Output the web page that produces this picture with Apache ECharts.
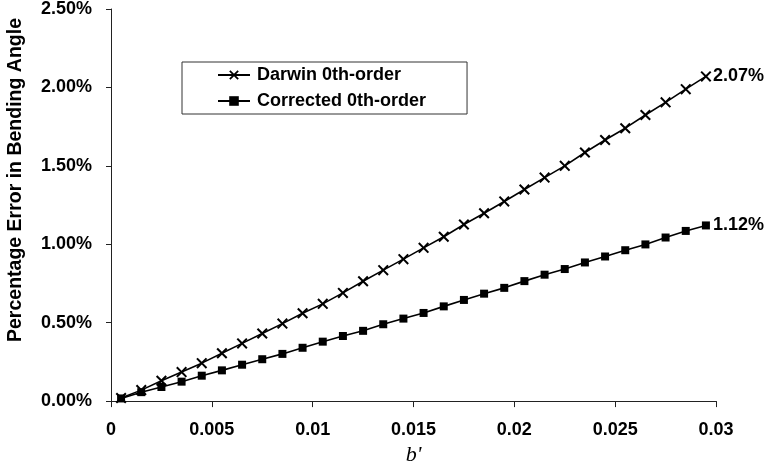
<!DOCTYPE html>
<html>
<head>
<meta charset="utf-8">
<script src="https://cdn.jsdelivr.net/npm/echarts@6/dist/echarts.min.js"></script>
<style>
html,body{margin:0;padding:0;background:#fff;}
#c{width:773px;height:471px;}
</style>
</head>
<body>
<div id="c"></div>
<script>
const bPrime = [0.0005,0.0015,0.0025,0.0035,0.0045,0.0055,0.0065,0.0075,0.0085,0.0095,
  0.0105,0.0115,0.0125,0.0135,0.0145,0.0155,0.0165,0.0175,0.0185,0.0195,
  0.0205,0.0215,0.0225,0.0235,0.0245,0.0255,0.0265,0.0275,0.0285,0.0295];
const darwinPct = [0.02,0.07,0.13,0.185,0.242,0.305,0.368,0.431,0.494,0.56,
  0.62,0.69,0.764,0.835,0.905,0.977,1.048,1.126,1.198,1.273,
  1.349,1.425,1.50,1.585,1.665,1.74,1.824,1.905,1.989,2.07];
const correctedPct = [0.017,0.057,0.09,0.124,0.162,0.196,0.232,0.267,0.301,0.34,
  0.379,0.415,0.448,0.49,0.526,0.562,0.604,0.645,0.685,0.722,
  0.765,0.806,0.842,0.884,0.922,0.962,0.999,1.043,1.085,1.12];
const seriesNames = ['Darwin 0th-order','Corrected 0th-order'];
const xTitle = "b'";
const yTitle = 'Percentage Error in Bending Angle';

const FONT = '"Liberation Sans", Arial, sans-serif';
const xPath = 'path://M0,1.3 L1.3,0 L5,3.7 L8.7,0 L10,1.3 L6.3,5 L10,8.7 L8.7,10 L5,6.3 L1.3,10 L0,8.7 L3.7,5 Z';

const chart = echarts.init(document.getElementById('c'), null, {renderer:'canvas'});
const pair = (xs, ys) => xs.map((x,i)=>[x, ys[i]]);
const endLbl = {
  show:true, distance:7, color:'#000', fontFamily:FONT, fontWeight:'bold', fontSize:18,
  formatter: p => p.value[1].toFixed(2) + '%'
};
chart.setOption({
  animation:false,
  backgroundColor:'#fff',
  textStyle:{fontFamily:FONT},
  grid:{left:111, right:57, top:8, bottom:66, containLabel:false},
  legend:{
    orient:'vertical', left:182, top:62,
    backgroundColor:'#fff', borderColor:'#333', borderWidth:1,
    padding:[4,41,4,35], itemGap:8, itemWidth:32, itemHeight:12,
    textStyle:{fontFamily:FONT, fontWeight:'bold', fontSize:18, color:'#000', padding:[0,0,0,2]},
    data:seriesNames
  },
  xAxis:{
    type:'value', min:0, max:0.03, interval:0.005,
    name:xTitle, nameLocation:'middle', nameGap:36,
    nameTextStyle:{fontFamily:'"Liberation Serif","Times New Roman",serif', fontStyle:'italic', fontSize:22, color:'#000'},
    axisLine:{show:true, onZero:false, lineStyle:{color:'#222', width:1}},
    axisTick:{show:true, inside:false, length:6, lineStyle:{color:'#222'}},
    axisLabel:{margin:20, color:'#000', fontFamily:FONT, fontWeight:'bold', fontSize:18,
      formatter: v => String(parseFloat(v.toFixed(4)))},
    splitLine:{show:false}
  },
  yAxis:{
    type:'value', min:0, max:2.5, interval:0.5,
    axisLine:{show:true, lineStyle:{color:'#222', width:1}},
    axisTick:{show:true, inside:false, length:5, lineStyle:{color:'#222'}},
    axisLabel:{margin:19, color:'#000', fontFamily:FONT, fontWeight:'bold', fontSize:18,
      formatter: v => v.toFixed(2) + '%'},
    splitLine:{show:false}
  },
  graphic:[{
    type:'text', left:6, top:18, rotation:Math.PI/2,
    style:{text:yTitle, fontFamily:FONT, fontWeight:'bold', fontSize:19.5, fill:'#000'}
  }],
  series:[
    {
      name:seriesNames[0], type:'line', data:pair(bPrime, darwinPct),
      symbol:xPath, symbolSize:11, showAllSymbol:true,
      lineStyle:{color:'#000', width:1.6},
      itemStyle:{color:'#000'},
      endLabel:endLbl, clip:false
    },
    {
      name:seriesNames[1], type:'line', data:pair(bPrime, correctedPct),
      symbol:'rect', symbolSize:8, showAllSymbol:true,
      lineStyle:{color:'#000', width:1.6},
      itemStyle:{color:'#000'},
      endLabel:endLbl, clip:false
    }
  ]
});
</script>
</body>
</html>
